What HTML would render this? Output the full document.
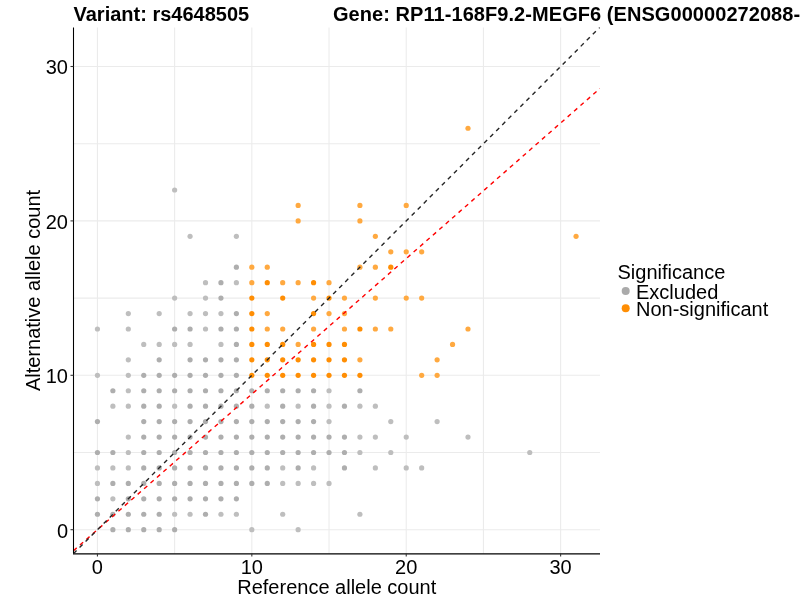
<!DOCTYPE html>
<html><head><meta charset="utf-8"><style>
html,body{margin:0;padding:0;background:#fff;}
svg{display:block;}
text{font-family:"Liberation Sans",Arial,sans-serif;}
svg{will-change:transform;}
</style></head><body>
<svg width="800" height="600" viewBox="0 0 800 600">
<rect width="800" height="600" fill="#fff"/>
<g stroke="#ebebeb" stroke-width="1.07"><line x1="97.43" y1="27.5" x2="97.43" y2="553.5"/><line x1="73.5" y1="529.70" x2="600" y2="529.70"/><line x1="174.63" y1="27.5" x2="174.63" y2="553.5"/><line x1="73.5" y1="452.50" x2="600" y2="452.50"/><line x1="251.83" y1="27.5" x2="251.83" y2="553.5"/><line x1="73.5" y1="375.30" x2="600" y2="375.30"/><line x1="329.03" y1="27.5" x2="329.03" y2="553.5"/><line x1="73.5" y1="298.10" x2="600" y2="298.10"/><line x1="406.23" y1="27.5" x2="406.23" y2="553.5"/><line x1="73.5" y1="220.90" x2="600" y2="220.90"/><line x1="483.43" y1="27.5" x2="483.43" y2="553.5"/><line x1="73.5" y1="143.70" x2="600" y2="143.70"/><line x1="560.63" y1="27.5" x2="560.63" y2="553.5"/><line x1="73.5" y1="66.50" x2="600" y2="66.50"/></g>
<g><circle cx="97.43" cy="452.50" r="2.6" fill="#aeaeae"/><circle cx="112.87" cy="452.50" r="2.6" fill="#aeaeae"/><circle cx="128.31" cy="452.50" r="2.6" fill="#bebebe"/><circle cx="143.75" cy="452.50" r="2.6" fill="#aeaeae"/><circle cx="159.19" cy="452.50" r="2.6" fill="#aeaeae"/><circle cx="174.63" cy="452.50" r="2.6" fill="#aeaeae"/><circle cx="97.43" cy="467.94" r="2.6" fill="#bebebe"/><circle cx="112.87" cy="467.94" r="2.6" fill="#bebebe"/><circle cx="128.31" cy="467.94" r="2.6" fill="#bebebe"/><circle cx="143.75" cy="467.94" r="2.6" fill="#aeaeae"/><circle cx="159.19" cy="467.94" r="2.6" fill="#aaaaaa"/><circle cx="174.63" cy="467.94" r="2.6" fill="#aeaeae"/><circle cx="97.43" cy="483.38" r="2.6" fill="#bebebe"/><circle cx="112.87" cy="483.38" r="2.6" fill="#aeaeae"/><circle cx="128.31" cy="483.38" r="2.6" fill="#aeaeae"/><circle cx="143.75" cy="483.38" r="2.6" fill="#aeaeae"/><circle cx="159.19" cy="483.38" r="2.6" fill="#aeaeae"/><circle cx="174.63" cy="483.38" r="2.6" fill="#aeaeae"/><circle cx="97.43" cy="498.82" r="2.6" fill="#aeaeae"/><circle cx="112.87" cy="498.82" r="2.6" fill="#bebebe"/><circle cx="128.31" cy="498.82" r="2.6" fill="#aeaeae"/><circle cx="143.75" cy="498.82" r="2.6" fill="#aeaeae"/><circle cx="159.19" cy="498.82" r="2.6" fill="#aeaeae"/><circle cx="174.63" cy="498.82" r="2.6" fill="#aeaeae"/><circle cx="97.43" cy="514.26" r="2.6" fill="#aeaeae"/><circle cx="112.87" cy="514.26" r="2.6" fill="#aeaeae"/><circle cx="128.31" cy="514.26" r="2.6" fill="#aeaeae"/><circle cx="143.75" cy="514.26" r="2.6" fill="#aeaeae"/><circle cx="159.19" cy="514.26" r="2.6" fill="#aeaeae"/><circle cx="174.63" cy="514.26" r="2.6" fill="#bebebe"/><circle cx="112.87" cy="529.70" r="2.6" fill="#aeaeae"/><circle cx="128.31" cy="529.70" r="2.6" fill="#aeaeae"/><circle cx="143.75" cy="529.70" r="2.6" fill="#aeaeae"/><circle cx="159.19" cy="529.70" r="2.6" fill="#aeaeae"/><circle cx="174.63" cy="529.70" r="2.6" fill="#aeaeae"/><circle cx="128.31" cy="359.86" r="2.6" fill="#bebebe"/><circle cx="159.19" cy="359.86" r="2.6" fill="#aeaeae"/><circle cx="97.43" cy="375.30" r="2.6" fill="#bebebe"/><circle cx="128.31" cy="375.30" r="2.6" fill="#bebebe"/><circle cx="143.75" cy="375.30" r="2.6" fill="#aeaeae"/><circle cx="159.19" cy="375.30" r="2.6" fill="#aeaeae"/><circle cx="174.63" cy="375.30" r="2.6" fill="#aeaeae"/><circle cx="112.87" cy="390.74" r="2.6" fill="#aeaeae"/><circle cx="128.31" cy="390.74" r="2.6" fill="#bebebe"/><circle cx="143.75" cy="390.74" r="2.6" fill="#aeaeae"/><circle cx="159.19" cy="390.74" r="2.6" fill="#aeaeae"/><circle cx="174.63" cy="390.74" r="2.6" fill="#aeaeae"/><circle cx="112.87" cy="406.18" r="2.6" fill="#bebebe"/><circle cx="128.31" cy="406.18" r="2.6" fill="#bebebe"/><circle cx="143.75" cy="406.18" r="2.6" fill="#aeaeae"/><circle cx="159.19" cy="406.18" r="2.6" fill="#aeaeae"/><circle cx="174.63" cy="406.18" r="2.6" fill="#bebebe"/><circle cx="97.43" cy="421.62" r="2.6" fill="#aeaeae"/><circle cx="143.75" cy="421.62" r="2.6" fill="#aeaeae"/><circle cx="159.19" cy="421.62" r="2.6" fill="#aeaeae"/><circle cx="174.63" cy="421.62" r="2.6" fill="#aeaeae"/><circle cx="128.31" cy="437.06" r="2.6" fill="#bebebe"/><circle cx="143.75" cy="437.06" r="2.6" fill="#aeaeae"/><circle cx="159.19" cy="437.06" r="2.6" fill="#aeaeae"/><circle cx="174.63" cy="437.06" r="2.6" fill="#aeaeae"/><circle cx="174.63" cy="298.10" r="2.6" fill="#bebebe"/><circle cx="128.31" cy="313.54" r="2.6" fill="#bebebe"/><circle cx="159.19" cy="313.54" r="2.6" fill="#bebebe"/><circle cx="97.43" cy="328.98" r="2.6" fill="#bebebe"/><circle cx="128.31" cy="328.98" r="2.6" fill="#bebebe"/><circle cx="174.63" cy="328.98" r="2.6" fill="#aeaeae"/><circle cx="143.75" cy="344.42" r="2.6" fill="#bebebe"/><circle cx="159.19" cy="344.42" r="2.6" fill="#bebebe"/><circle cx="174.63" cy="344.42" r="2.6" fill="#bebebe"/><circle cx="174.63" cy="190.02" r="2.6" fill="#bebebe"/><circle cx="190.07" cy="452.50" r="2.6" fill="#aeaeae"/><circle cx="205.51" cy="452.50" r="2.6" fill="#aeaeae"/><circle cx="220.95" cy="452.50" r="2.6" fill="#aeaeae"/><circle cx="236.39" cy="452.50" r="2.6" fill="#aeaeae"/><circle cx="251.83" cy="452.50" r="2.6" fill="#aeaeae"/><circle cx="267.27" cy="452.50" r="2.6" fill="#aeaeae"/><circle cx="190.07" cy="467.94" r="2.6" fill="#aeaeae"/><circle cx="205.51" cy="467.94" r="2.6" fill="#aeaeae"/><circle cx="220.95" cy="467.94" r="2.6" fill="#aeaeae"/><circle cx="236.39" cy="467.94" r="2.6" fill="#aeaeae"/><circle cx="251.83" cy="467.94" r="2.6" fill="#aeaeae"/><circle cx="267.27" cy="467.94" r="2.6" fill="#aeaeae"/><circle cx="190.07" cy="483.38" r="2.6" fill="#aeaeae"/><circle cx="205.51" cy="483.38" r="2.6" fill="#aeaeae"/><circle cx="220.95" cy="483.38" r="2.6" fill="#aeaeae"/><circle cx="236.39" cy="483.38" r="2.6" fill="#aeaeae"/><circle cx="251.83" cy="483.38" r="2.6" fill="#aeaeae"/><circle cx="267.27" cy="483.38" r="2.6" fill="#aeaeae"/><circle cx="190.07" cy="498.82" r="2.6" fill="#aeaeae"/><circle cx="205.51" cy="498.82" r="2.6" fill="#aeaeae"/><circle cx="220.95" cy="498.82" r="2.6" fill="#aeaeae"/><circle cx="236.39" cy="498.82" r="2.6" fill="#aeaeae"/><circle cx="190.07" cy="514.26" r="2.6" fill="#bebebe"/><circle cx="205.51" cy="514.26" r="2.6" fill="#aeaeae"/><circle cx="220.95" cy="514.26" r="2.6" fill="#bebebe"/><circle cx="236.39" cy="514.26" r="2.6" fill="#bebebe"/><circle cx="251.83" cy="529.70" r="2.6" fill="#bebebe"/><circle cx="190.07" cy="359.86" r="2.6" fill="#aeaeae"/><circle cx="205.51" cy="359.86" r="2.6" fill="#aeaeae"/><circle cx="220.95" cy="359.86" r="2.6" fill="#aeaeae"/><circle cx="236.39" cy="359.86" r="2.6" fill="#aeaeae"/><circle cx="190.07" cy="375.30" r="2.6" fill="#aeaeae"/><circle cx="205.51" cy="375.30" r="2.6" fill="#aeaeae"/><circle cx="220.95" cy="375.30" r="2.6" fill="#aeaeae"/><circle cx="236.39" cy="375.30" r="2.6" fill="#aeaeae"/><circle cx="190.07" cy="390.74" r="2.6" fill="#aeaeae"/><circle cx="205.51" cy="390.74" r="2.6" fill="#aeaeae"/><circle cx="220.95" cy="390.74" r="2.6" fill="#aeaeae"/><circle cx="236.39" cy="390.74" r="2.6" fill="#aeaeae"/><circle cx="251.83" cy="390.74" r="2.6" fill="#aeaeae"/><circle cx="267.27" cy="390.74" r="2.6" fill="#aeaeae"/><circle cx="190.07" cy="406.18" r="2.6" fill="#aeaeae"/><circle cx="205.51" cy="406.18" r="2.6" fill="#aeaeae"/><circle cx="220.95" cy="406.18" r="2.6" fill="#aeaeae"/><circle cx="236.39" cy="406.18" r="2.6" fill="#aeaeae"/><circle cx="251.83" cy="406.18" r="2.6" fill="#aeaeae"/><circle cx="267.27" cy="406.18" r="2.6" fill="#bebebe"/><circle cx="190.07" cy="421.62" r="2.6" fill="#aeaeae"/><circle cx="205.51" cy="421.62" r="2.6" fill="#aeaeae"/><circle cx="220.95" cy="421.62" r="2.6" fill="#aeaeae"/><circle cx="236.39" cy="421.62" r="2.6" fill="#aeaeae"/><circle cx="251.83" cy="421.62" r="2.6" fill="#aeaeae"/><circle cx="267.27" cy="421.62" r="2.6" fill="#aeaeae"/><circle cx="190.07" cy="437.06" r="2.6" fill="#aeaeae"/><circle cx="205.51" cy="437.06" r="2.6" fill="#aeaeae"/><circle cx="220.95" cy="437.06" r="2.6" fill="#aeaeae"/><circle cx="236.39" cy="437.06" r="2.6" fill="#aeaeae"/><circle cx="251.83" cy="437.06" r="2.6" fill="#aeaeae"/><circle cx="267.27" cy="437.06" r="2.6" fill="#aeaeae"/><circle cx="236.39" cy="267.22" r="2.6" fill="#aeaeae"/><circle cx="205.51" cy="282.66" r="2.6" fill="#bebebe"/><circle cx="220.95" cy="282.66" r="2.6" fill="#aeaeae"/><circle cx="236.39" cy="282.66" r="2.6" fill="#bebebe"/><circle cx="205.51" cy="298.10" r="2.6" fill="#bebebe"/><circle cx="220.95" cy="298.10" r="2.6" fill="#aeaeae"/><circle cx="190.07" cy="313.54" r="2.6" fill="#bebebe"/><circle cx="205.51" cy="313.54" r="2.6" fill="#bebebe"/><circle cx="220.95" cy="313.54" r="2.6" fill="#bebebe"/><circle cx="236.39" cy="313.54" r="2.6" fill="#aeaeae"/><circle cx="190.07" cy="328.98" r="2.6" fill="#aeaeae"/><circle cx="205.51" cy="328.98" r="2.6" fill="#bebebe"/><circle cx="220.95" cy="328.98" r="2.6" fill="#aeaeae"/><circle cx="236.39" cy="328.98" r="2.6" fill="#aeaeae"/><circle cx="190.07" cy="344.42" r="2.6" fill="#bebebe"/><circle cx="220.95" cy="344.42" r="2.6" fill="#bebebe"/><circle cx="236.39" cy="344.42" r="2.6" fill="#aeaeae"/><circle cx="190.07" cy="236.34" r="2.6" fill="#bebebe"/><circle cx="236.39" cy="236.34" r="2.6" fill="#bebebe"/><circle cx="282.71" cy="452.50" r="2.6" fill="#aeaeae"/><circle cx="298.15" cy="452.50" r="2.6" fill="#aeaeae"/><circle cx="313.59" cy="452.50" r="2.6" fill="#aeaeae"/><circle cx="329.03" cy="452.50" r="2.6" fill="#aeaeae"/><circle cx="344.47" cy="452.50" r="2.6" fill="#aeaeae"/><circle cx="359.91" cy="452.50" r="2.6" fill="#bebebe"/><circle cx="282.71" cy="467.94" r="2.6" fill="#bebebe"/><circle cx="298.15" cy="467.94" r="2.6" fill="#aeaeae"/><circle cx="313.59" cy="467.94" r="2.6" fill="#bebebe"/><circle cx="344.47" cy="467.94" r="2.6" fill="#aeaeae"/><circle cx="282.71" cy="483.38" r="2.6" fill="#bebebe"/><circle cx="298.15" cy="483.38" r="2.6" fill="#bebebe"/><circle cx="313.59" cy="483.38" r="2.6" fill="#bebebe"/><circle cx="329.03" cy="483.38" r="2.6" fill="#bebebe"/><circle cx="282.71" cy="514.26" r="2.6" fill="#bebebe"/><circle cx="359.91" cy="514.26" r="2.6" fill="#bebebe"/><circle cx="298.15" cy="529.70" r="2.6" fill="#bebebe"/><circle cx="282.71" cy="390.74" r="2.6" fill="#aeaeae"/><circle cx="298.15" cy="390.74" r="2.6" fill="#aeaeae"/><circle cx="313.59" cy="390.74" r="2.6" fill="#aeaeae"/><circle cx="329.03" cy="390.74" r="2.6" fill="#bebebe"/><circle cx="359.91" cy="390.74" r="2.6" fill="#aeaeae"/><circle cx="282.71" cy="406.18" r="2.6" fill="#aeaeae"/><circle cx="298.15" cy="406.18" r="2.6" fill="#bebebe"/><circle cx="313.59" cy="406.18" r="2.6" fill="#aeaeae"/><circle cx="329.03" cy="406.18" r="2.6" fill="#bebebe"/><circle cx="344.47" cy="406.18" r="2.6" fill="#aeaeae"/><circle cx="359.91" cy="406.18" r="2.6" fill="#bebebe"/><circle cx="282.71" cy="421.62" r="2.6" fill="#aeaeae"/><circle cx="298.15" cy="421.62" r="2.6" fill="#aeaeae"/><circle cx="313.59" cy="421.62" r="2.6" fill="#aeaeae"/><circle cx="329.03" cy="421.62" r="2.6" fill="#bebebe"/><circle cx="282.71" cy="437.06" r="2.6" fill="#aeaeae"/><circle cx="298.15" cy="437.06" r="2.6" fill="#aeaeae"/><circle cx="313.59" cy="437.06" r="2.6" fill="#aeaeae"/><circle cx="329.03" cy="437.06" r="2.6" fill="#aeaeae"/><circle cx="344.47" cy="437.06" r="2.6" fill="#aeaeae"/><circle cx="359.91" cy="437.06" r="2.6" fill="#bebebe"/><circle cx="375.35" cy="406.18" r="2.6" fill="#bebebe"/><circle cx="390.79" cy="421.62" r="2.6" fill="#bebebe"/><circle cx="437.11" cy="421.62" r="2.6" fill="#bebebe"/><circle cx="375.35" cy="437.06" r="2.6" fill="#bebebe"/><circle cx="406.23" cy="437.06" r="2.6" fill="#bebebe"/><circle cx="390.79" cy="452.50" r="2.6" fill="#bebebe"/><circle cx="375.35" cy="467.94" r="2.6" fill="#bebebe"/><circle cx="406.23" cy="467.94" r="2.6" fill="#bebebe"/><circle cx="421.67" cy="467.94" r="2.6" fill="#bebebe"/><circle cx="467.99" cy="437.06" r="2.6" fill="#bebebe"/><circle cx="529.75" cy="452.50" r="2.6" fill="#bebebe"/><circle cx="251.83" cy="359.86" r="2.6" fill="#ff8e04"/><circle cx="267.27" cy="359.86" r="2.6" fill="#ff8e04"/><circle cx="251.83" cy="375.30" r="2.6" fill="#ff8e04"/><circle cx="267.27" cy="375.30" r="2.6" fill="#ff8e04"/><circle cx="251.83" cy="267.22" r="2.6" fill="#ffa940"/><circle cx="267.27" cy="267.22" r="2.6" fill="#ffa940"/><circle cx="251.83" cy="282.66" r="2.6" fill="#ffa940"/><circle cx="267.27" cy="282.66" r="2.6" fill="#ff8e04"/><circle cx="251.83" cy="298.10" r="2.6" fill="#ff8e04"/><circle cx="251.83" cy="313.54" r="2.6" fill="#ff8e04"/><circle cx="267.27" cy="313.54" r="2.6" fill="#ffa940"/><circle cx="251.83" cy="328.98" r="2.6" fill="#ff8e04"/><circle cx="267.27" cy="328.98" r="2.6" fill="#ffa940"/><circle cx="251.83" cy="344.42" r="2.6" fill="#ff8e04"/><circle cx="267.27" cy="344.42" r="2.6" fill="#ff8e04"/><circle cx="282.71" cy="359.86" r="2.6" fill="#ff8e04"/><circle cx="298.15" cy="359.86" r="2.6" fill="#ff8e04"/><circle cx="313.59" cy="359.86" r="2.6" fill="#ff8e04"/><circle cx="329.03" cy="359.86" r="2.6" fill="#ff8e04"/><circle cx="344.47" cy="359.86" r="2.6" fill="#ff8e04"/><circle cx="359.91" cy="359.86" r="2.6" fill="#ffa940"/><circle cx="282.71" cy="375.30" r="2.6" fill="#ff8e04"/><circle cx="298.15" cy="375.30" r="2.6" fill="#ff8e04"/><circle cx="313.59" cy="375.30" r="2.6" fill="#ff8e04"/><circle cx="329.03" cy="375.30" r="2.6" fill="#ff8e04"/><circle cx="344.47" cy="375.30" r="2.6" fill="#ff8e04"/><circle cx="359.91" cy="375.30" r="2.6" fill="#ff8e04"/><circle cx="359.91" cy="267.22" r="2.6" fill="#ffa940"/><circle cx="282.71" cy="282.66" r="2.6" fill="#ffa940"/><circle cx="298.15" cy="282.66" r="2.6" fill="#ffa940"/><circle cx="313.59" cy="282.66" r="2.6" fill="#ff8e04"/><circle cx="329.03" cy="282.66" r="2.6" fill="#ffa940"/><circle cx="282.71" cy="298.10" r="2.6" fill="#ff8e04"/><circle cx="313.59" cy="298.10" r="2.6" fill="#ffa940"/><circle cx="329.03" cy="298.10" r="2.6" fill="#ff8e04"/><circle cx="344.47" cy="298.10" r="2.6" fill="#ffa940"/><circle cx="313.59" cy="313.54" r="2.6" fill="#ff8e04"/><circle cx="329.03" cy="313.54" r="2.6" fill="#ffa940"/><circle cx="344.47" cy="313.54" r="2.6" fill="#ffa940"/><circle cx="282.71" cy="328.98" r="2.6" fill="#ffa940"/><circle cx="313.59" cy="328.98" r="2.6" fill="#ffa940"/><circle cx="344.47" cy="328.98" r="2.6" fill="#ffa940"/><circle cx="359.91" cy="328.98" r="2.6" fill="#ff8e04"/><circle cx="282.71" cy="344.42" r="2.6" fill="#ff8e04"/><circle cx="298.15" cy="344.42" r="2.6" fill="#ffa940"/><circle cx="313.59" cy="344.42" r="2.6" fill="#ff8e04"/><circle cx="329.03" cy="344.42" r="2.6" fill="#ff8e04"/><circle cx="344.47" cy="344.42" r="2.6" fill="#ff8e04"/><circle cx="298.15" cy="205.46" r="2.6" fill="#ffa940"/><circle cx="359.91" cy="205.46" r="2.6" fill="#ffa940"/><circle cx="298.15" cy="220.90" r="2.6" fill="#ffa940"/><circle cx="359.91" cy="220.90" r="2.6" fill="#ffa940"/><circle cx="437.11" cy="359.86" r="2.6" fill="#ffa940"/><circle cx="421.67" cy="375.30" r="2.6" fill="#ffa940"/><circle cx="437.11" cy="375.30" r="2.6" fill="#ffa940"/><circle cx="375.35" cy="267.22" r="2.6" fill="#ffa940"/><circle cx="390.79" cy="267.22" r="2.6" fill="#ff8e04"/><circle cx="375.35" cy="298.10" r="2.6" fill="#ffa940"/><circle cx="406.23" cy="298.10" r="2.6" fill="#ffa940"/><circle cx="421.67" cy="298.10" r="2.6" fill="#ffa940"/><circle cx="375.35" cy="328.98" r="2.6" fill="#ffa940"/><circle cx="390.79" cy="328.98" r="2.6" fill="#ffa940"/><circle cx="452.55" cy="344.42" r="2.6" fill="#ffa940"/><circle cx="406.23" cy="205.46" r="2.6" fill="#ffa940"/><circle cx="375.35" cy="236.34" r="2.6" fill="#ffa940"/><circle cx="390.79" cy="251.78" r="2.6" fill="#ffa940"/><circle cx="406.23" cy="251.78" r="2.6" fill="#ffa940"/><circle cx="421.67" cy="251.78" r="2.6" fill="#ffa940"/><circle cx="576.07" cy="236.34" r="2.6" fill="#ffa940"/><circle cx="467.99" cy="328.98" r="2.6" fill="#ffa940"/><circle cx="467.99" cy="128.26" r="2.6" fill="#ffa940"/></g>
<defs><clipPath id="pc"><rect x="73.5" y="27.5" width="526.5" height="526.0"/></clipPath></defs>
<g clip-path="url(#pc)" fill="none" stroke-width="1.4" stroke-dasharray="4.27 4.27"><line x1="73.50" y1="550.71" x2="600.00" y2="88.44" stroke="#ff0000"/><line x1="73.50" y1="553.63" x2="600.00" y2="27.13" stroke="#262626"/></g>
<g stroke="#000" stroke-width="1.07" fill="none"><line x1="73.5" y1="27.5" x2="73.5" y2="553.5"/><line x1="73.0" y1="553.9" x2="600" y2="553.9" stroke-width="1.1"/><line x1="70.5" y1="529.70" x2="73.5" y2="529.70" stroke="#333"/><line x1="97.43" y1="553.5" x2="97.43" y2="556.5" stroke="#333"/><line x1="70.5" y1="375.30" x2="73.5" y2="375.30" stroke="#333"/><line x1="251.83" y1="553.5" x2="251.83" y2="556.5" stroke="#333"/><line x1="70.5" y1="220.90" x2="73.5" y2="220.90" stroke="#333"/><line x1="406.23" y1="553.5" x2="406.23" y2="556.5" stroke="#333"/><line x1="70.5" y1="66.50" x2="73.5" y2="66.50" stroke="#333"/><line x1="560.63" y1="553.5" x2="560.63" y2="556.5" stroke="#333"/></g>
<text x="68" y="537.60" font-size="20" text-anchor="end">0</text><text x="97.43" y="573.6" font-size="20" text-anchor="middle">0</text><text x="68" y="383.20" font-size="20" text-anchor="end">10</text><text x="251.83" y="573.6" font-size="20" text-anchor="middle">10</text><text x="68" y="228.80" font-size="20" text-anchor="end">20</text><text x="406.23" y="573.6" font-size="20" text-anchor="middle">20</text><text x="68" y="74.40" font-size="20" text-anchor="end">30</text><text x="560.63" y="573.6" font-size="20" text-anchor="middle">30</text><text x="336.75" y="594" font-size="20" text-anchor="middle">Reference allele count</text><text transform="translate(40,290.5) rotate(-90)" font-size="20" text-anchor="middle">Alternative allele count</text><text x="73.5" y="20.6" font-size="20" font-weight="bold">Variant: rs4648505</text><text x="333" y="20.6" font-size="20" font-weight="bold" letter-spacing="0.06">Gene: RP11-168F9.2-MEGF6 (ENSG00000272088-ENSG00000162591)</text><text x="617.5" y="278.8" font-size="20">Significance</text><circle cx="625.7" cy="291.1" r="4" fill="#aaaaaa"/><circle cx="625.7" cy="308.3" r="4" fill="#ff8e04"/><text x="636" y="298.5" font-size="20">Excluded</text><text x="636" y="315.6" font-size="20">Non-significant</text>
</svg>
</body></html>
